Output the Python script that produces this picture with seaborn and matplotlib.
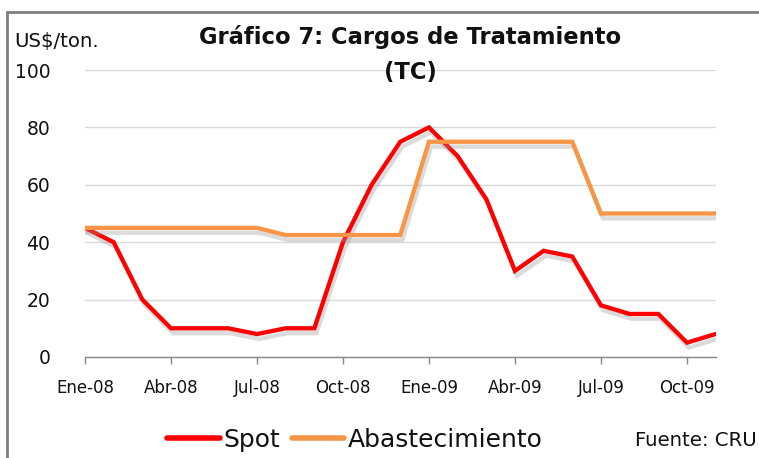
import matplotlib
matplotlib.use("Agg")
import matplotlib.pyplot as plt
import matplotlib.patheffects as pe
from matplotlib.lines import Line2D
import seaborn as sns
import pandas as pd

months = ["Ene-08","Feb-08","Mar-08","Abr-08","May-08","Jun-08","Jul-08","Ago-08","Sep-08",
          "Oct-08","Nov-08","Dic-08","Ene-09","Feb-09","Mar-09","Abr-09","May-09","Jun-09",
          "Jul-09","Ago-09","Sep-09","Oct-09","Nov-09"]
spot = [45, 40, 20, 10, 10, 10, 8, 10, 10, 40, 60, 75, 80, 70, 55, 30, 37, 35, 18, 15, 15, 5, 8]
abastecimiento = [45, 45, 45, 45, 45, 45, 45, 42.5, 42.5, 42.5, 42.5, 42.5, 75, 75, 75, 75, 75, 75,
                  50, 50, 50, 50, 50]
tick_labels = ["Ene-08","Abr-08","Jul-08","Oct-08","Ene-09","Abr-09","Jul-09","Oct-09"]

sns.set_theme(style="white")
plt.rcParams['font.family'] = ['DejaVu Sans']

df = pd.DataFrame({
    "idx": list(range(len(months))) * 2,
    "valor": spot + abastecimiento,
    "serie": ["Spot"] * len(months) + ["Abastecimiento"] * len(months),
})

fig = plt.figure(figsize=(7.59, 4.58), dpi=100)
ax = fig.add_axes([85/759, 1 - 357/458, (715.6-85)/759, (357-70)/458])

palette = {"Spot": "#ff0000", "Abastecimiento": "#f79646"}
sns.lineplot(data=df, x="idx", y="valor", hue="serie", palette=palette, linewidth=3.1,
             ax=ax, legend=False, zorder=3)
shadow = [pe.SimpleLineShadow(offset=(1.5, -3.5), shadow_color="#999999", alpha=0.35), pe.Normal()]
for ln in ax.get_lines():
    ln.set_path_effects(shadow)
    ln.set_solid_joinstyle("miter")

ax.set_xlim(0, len(months) - 1)
ax.set_ylim(0, 100)
ax.set_yticks([0, 20, 40, 60, 80, 100])
ax.set_xticks([months.index(t) for t in tick_labels])
ax.set_xticklabels(tick_labels)
ax.tick_params(axis="x", length=5, width=1, color="#888888", direction="out", pad=11,
               labelsize=12, bottom=True, labelcolor="#111111")
ax.tick_params(axis="y", length=0, labelsize=13.5, pad=25, labelcolor="#111111")
ax.set_xlabel("")
ax.set_ylabel("")
ax.grid(axis="y", color="#d9d9d9", linewidth=1)
ax.set_axisbelow(True)
for s in ["top", "right", "left"]:
    ax.spines[s].set_visible(False)
ax.spines["bottom"].set_color("#888888")
ax.spines["bottom"].set_linewidth(1)

fig.text(410/759, 1 - 37/458, "Gráfico 7: Cargos de Tratamiento", ha="center", va="center",
         fontsize=16.3, fontweight="bold", color="#111111")
fig.text(410/759, 1 - 72/458, "(TC)", ha="center", va="center",
         fontsize=16.3, fontweight="bold", color="#111111")
fig.text(14/759, 1 - 42/458, "US$/ton.", ha="left", va="center", fontsize=14.2, color="#111111")
fig.text(757/759, 1 - 440/458, "Fuente: CRU", ha="right", va="center", fontsize=14.2, color="#111111")

handles = [Line2D([], [], color="#ff0000", lw=4), Line2D([], [], color="#f79646", lw=4)]
fig.legend(handles, ["Spot", "Abastecimiento"], loc="center", bbox_to_anchor=(355/759, 1 - 440/458),
           ncol=2, frameon=False, fontsize=18, handlelength=2.1, handletextpad=0.15, columnspacing=0.45,
           labelcolor="#111111")

# border
fig.add_artist(Line2D([7/759, 7/759], [0, 1 - 12/458], transform=fig.transFigure, color="#7f7f7f", lw=2))
fig.add_artist(Line2D([7/759, 1], [1 - 12/458, 1 - 12/458], transform=fig.transFigure, color="#7f7f7f", lw=2))

fig.savefig("out.png", dpi=100)
